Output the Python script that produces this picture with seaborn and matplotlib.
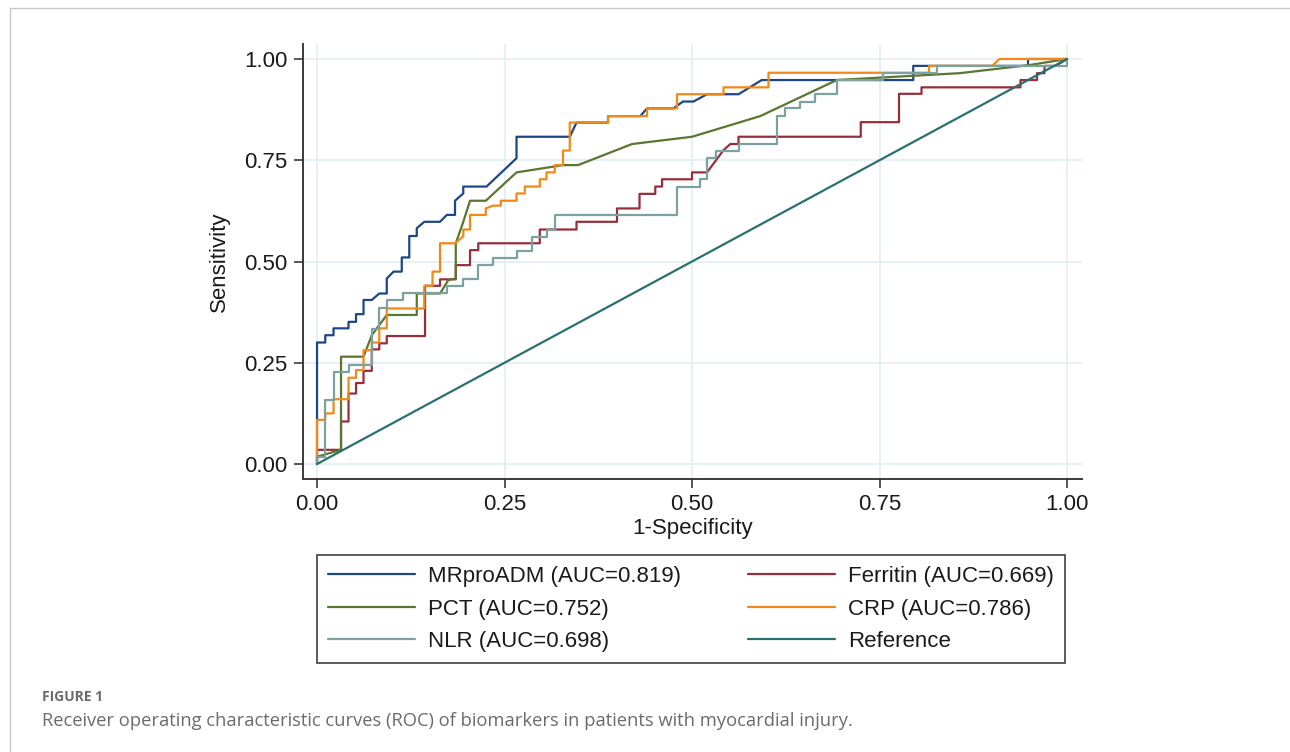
import matplotlib
matplotlib.use("Agg")
import matplotlib.pyplot as plt
from matplotlib.lines import Line2D
import seaborn as sns
import pandas as pd

# ---------------- data (ROC vertices) ----------------
labels = ["MRproADM (AUC=0.819)", "Ferritin (AUC=0.669)", "PCT (AUC=0.752)",
          "CRP (AUC=0.786)", "NLR (AUC=0.698)", "Reference"]

mrproadm_fpr = [0, 0, 0.011, 0.011, 0.022, 0.022, 0.042, 0.042, 0.052, 0.052, 0.062, 0.062,
                0.073, 0.083, 0.093, 0.093, 0.102, 0.113, 0.113, 0.123, 0.123, 0.133, 0.133,
                0.143, 0.164, 0.173, 0.184, 0.184, 0.195, 0.195, 0.226, 0.266, 0.266, 0.337,
                0.346, 0.388, 0.388, 0.431, 0.44, 0.475, 0.488, 0.502, 0.52, 0.562, 0.593,
                0.795, 0.795, 0.948, 0.948, 1.0]
mrproadm_tpr = [0, 0.30, 0.30, 0.318, 0.318, 0.335, 0.335, 0.351, 0.351, 0.370, 0.370, 0.405,
                0.405, 0.421, 0.421, 0.458, 0.475, 0.475, 0.510, 0.510, 0.563, 0.563, 0.582,
                0.598, 0.598, 0.615, 0.615, 0.650, 0.668, 0.685, 0.685, 0.755, 0.808, 0.808,
                0.843, 0.843, 0.859, 0.859, 0.878, 0.878, 0.895, 0.895, 0.913, 0.913, 0.948,
                0.948, 0.983, 0.983, 1.0, 1.0]

ferritin_fpr = [0, 0, 0.032, 0.032, 0.042, 0.042, 0.052, 0.052, 0.062, 0.062, 0.073, 0.073,
                0.083, 0.083, 0.093, 0.093, 0.144, 0.144, 0.164, 0.164, 0.185, 0.185, 0.204,
                0.204, 0.215, 0.215, 0.297, 0.297, 0.346, 0.346, 0.40, 0.40, 0.43, 0.43,
                0.451, 0.451, 0.46, 0.46, 0.50, 0.50, 0.52, 0.542, 0.551, 0.562, 0.562,
                0.725, 0.725, 0.776, 0.776, 0.806, 0.806, 0.938, 0.938, 0.96, 0.96, 0.97,
                0.97, 0.985, 1.0]
ferritin_tpr = [0, 0.035, 0.035, 0.105, 0.105, 0.174, 0.174, 0.200, 0.200, 0.230, 0.230, 0.283,
                0.283, 0.298, 0.298, 0.316, 0.316, 0.440, 0.440, 0.456, 0.456, 0.491, 0.491,
                0.528, 0.528, 0.545, 0.545, 0.579, 0.579, 0.598, 0.598, 0.631, 0.631, 0.667,
                0.667, 0.685, 0.685, 0.703, 0.703, 0.720, 0.720, 0.775, 0.790, 0.790, 0.808,
                0.808, 0.844, 0.844, 0.914, 0.914, 0.930, 0.930, 0.948, 0.948, 0.965, 0.965,
                0.983, 0.983, 1.0]

pct_fpr = [0, 0, 0.032, 0.032, 0.062, 0.073, 0.093, 0.133, 0.133, 0.164, 0.175, 0.185,
           0.185, 0.195, 0.204, 0.225, 0.266, 0.328, 0.348, 0.42, 0.50, 0.591, 0.693,
           0.857, 0.95, 1.0]
pct_tpr = [0, 0.018, 0.035, 0.265, 0.265, 0.318, 0.368, 0.368, 0.421, 0.421, 0.454, 0.458,
           0.545, 0.598, 0.650, 0.650, 0.720, 0.738, 0.738, 0.790, 0.808, 0.859, 0.948,
           0.965, 0.985, 1.0]

crp_fpr = [0, 0, 0.011, 0.011, 0.022, 0.022, 0.042, 0.042, 0.052, 0.052, 0.062, 0.062,
           0.073, 0.073, 0.083, 0.083, 0.093, 0.093, 0.143, 0.143, 0.154, 0.154, 0.164,
           0.164, 0.184, 0.195, 0.195, 0.204, 0.204, 0.225, 0.225, 0.235, 0.245, 0.245,
           0.266, 0.266, 0.277, 0.277, 0.297, 0.297, 0.306, 0.306, 0.317, 0.317, 0.328,
           0.328, 0.337, 0.337, 0.388, 0.388, 0.44, 0.44, 0.48, 0.48, 0.542, 0.542, 0.602,
           0.602, 0.816, 0.816, 0.90, 0.91, 1.0]
crp_tpr = [0, 0.109, 0.109, 0.125, 0.125, 0.160, 0.160, 0.213, 0.213, 0.232, 0.232, 0.281,
           0.281, 0.300, 0.300, 0.335, 0.335, 0.384, 0.384, 0.440, 0.440, 0.475, 0.475,
           0.545, 0.545, 0.562, 0.579, 0.579, 0.615, 0.615, 0.631, 0.638, 0.638, 0.650,
           0.650, 0.668, 0.668, 0.685, 0.685, 0.703, 0.703, 0.720, 0.720, 0.738, 0.738,
           0.774, 0.774, 0.843, 0.843, 0.859, 0.859, 0.878, 0.878, 0.913, 0.913, 0.930,
           0.930, 0.966, 0.966, 0.983, 0.983, 1.0, 1.0]

nlr_fpr = [0, 0, 0.011, 0.011, 0.022, 0.022, 0.042, 0.042, 0.073, 0.073, 0.083, 0.083,
           0.093, 0.093, 0.114, 0.114, 0.173, 0.173, 0.194, 0.194, 0.215, 0.215, 0.235,
           0.235, 0.266, 0.266, 0.286, 0.286, 0.306, 0.306, 0.317, 0.317, 0.48, 0.48,
           0.511, 0.511, 0.52, 0.52, 0.532, 0.532, 0.562, 0.562, 0.613, 0.613, 0.624,
           0.624, 0.644, 0.644, 0.664, 0.664, 0.693, 0.693, 0.755, 0.755, 0.826, 0.826,
           1.0, 1.0]
nlr_tpr = [0, 0.018, 0.018, 0.158, 0.158, 0.228, 0.228, 0.244, 0.244, 0.333, 0.333, 0.386,
           0.386, 0.405, 0.405, 0.421, 0.421, 0.440, 0.440, 0.456, 0.456, 0.491, 0.491,
           0.508, 0.508, 0.527, 0.527, 0.561, 0.561, 0.579, 0.579, 0.615, 0.615, 0.685,
           0.685, 0.703, 0.703, 0.755, 0.755, 0.773, 0.773, 0.790, 0.790, 0.859, 0.859,
           0.878, 0.878, 0.895, 0.895, 0.913, 0.913, 0.948, 0.948, 0.966, 0.966, 0.983,
           0.983, 1.0]

reference_fpr = [0, 1]
reference_tpr = [0, 1]

ticks = [0.00, 0.25, 0.50, 0.75, 1.00]
tick_labels = ["0.00", "0.25", "0.50", "0.75", "1.00"]

colors = ["#1c4686", "#962f3b", "#5a7630", "#f0891a", "#7ba29e", "#2a7070"]

# ---------------- build long table ----------------
series = [(mrproadm_fpr, mrproadm_tpr), (ferritin_fpr, ferritin_tpr), (pct_fpr, pct_tpr),
          (crp_fpr, crp_tpr), (nlr_fpr, nlr_tpr), (reference_fpr, reference_tpr)]
rows = []
for lab, (fx, ty) in zip(labels, series):
    for i, (a, b) in enumerate(zip(fx, ty)):
        rows.append({"curve": lab, "order": i, "fpr": a, "tpr": b})
df = pd.DataFrame(rows)

# ---------------- style ----------------
sns.set_theme(style="white")
plt.rcParams["font.family"] = ["Liberation Sans", "DejaVu Sans"]

W, H = 1290, 752
fig = plt.figure(figsize=(W / 100, H / 100), dpi=100)
ax = fig.add_axes([303 / W, 1 - 479 / H, (1082 - 303) / W, (479 - 44) / H])

sns.lineplot(data=df, x="fpr", y="tpr", hue="curve", hue_order=labels,
             palette=dict(zip(labels, colors)), sort=False, estimator=None,
             units="curve", linewidth=1.6, ax=ax, legend=False)

ax.set_xlim(-0.0187, 1.02)
ax.set_ylim(-0.037, 1.037)
ax.set_xticks(ticks)
ax.set_xticklabels(tick_labels)
ax.set_yticks(ticks)
ax.set_yticklabels(tick_labels)
ax.grid(True, color="#e3eef3", linewidth=1.2)
ax.set_axisbelow(True)
for s in ["top", "right"]:
    ax.spines[s].set_visible(False)
for s in ["left", "bottom"]:
    ax.spines[s].set_color("#3a3a3a")
    ax.spines[s].set_linewidth(1.4)
ax.tick_params(axis="both", which="major", direction="out", length=6.5, width=1.2,
               color="#3a3a3a", labelsize=16, labelcolor="#1a1a1a", pad=4.5,
               left=True, bottom=True)
ax.set_xlabel("1-Specificity", fontsize=16, color="#1a1a1a", labelpad=2)
ax.set_ylabel("Sensitivity", fontsize=16, color="#1a1a1a", labelpad=10)

# ---------------- legend ----------------
legend_order = [0, 2, 4, 1, 3, 5]
handles = [Line2D([0], [0], color=colors[i], linewidth=1.6) for i in legend_order]
leg_labels = [labels[i] for i in legend_order]
leg = fig.legend(handles, leg_labels, loc="center", bbox_to_anchor=(691 / W, 1 - 609 / H),
                 ncol=2, fontsize=16, frameon=True, fancybox=False, edgecolor="#222222",
                 handlelength=3.9, handletextpad=0.6, columnspacing=3.0, labelspacing=0.52,
                 borderpad=0.5)
leg.get_frame().set_linewidth(1.3)
for t in leg.get_texts():
    t.set_color("#1a1a1a")

# ---------------- caption & frame ----------------
fig.text(42 / W, 1 - 697 / H, "FIGURE 1", fontsize=10, fontweight="bold", color="#6b6b6b",
         family=["Open Sans", "DejaVu Sans"], va="center", ha="left")
fig.text(42 / W, 1 - 721 / H,
         "Receiver operating characteristic curves (ROC) of biomarkers in patients with myocardial injury.",
         fontsize=13.2, color="#6b6b6b", family=["Open Sans", "DejaVu Sans"], va="center", ha="left")
fig.add_artist(Line2D([9.5 / W, 9.5 / W], [0, 1 - 8 / H], transform=fig.transFigure,
                      color="#c8c8c8", linewidth=1.0))
fig.add_artist(Line2D([9.5 / W, 1], [1 - 8 / H, 1 - 8 / H], transform=fig.transFigure,
                      color="#c8c8c8", linewidth=1.0))

fig.savefig("out.png", dpi=100)
